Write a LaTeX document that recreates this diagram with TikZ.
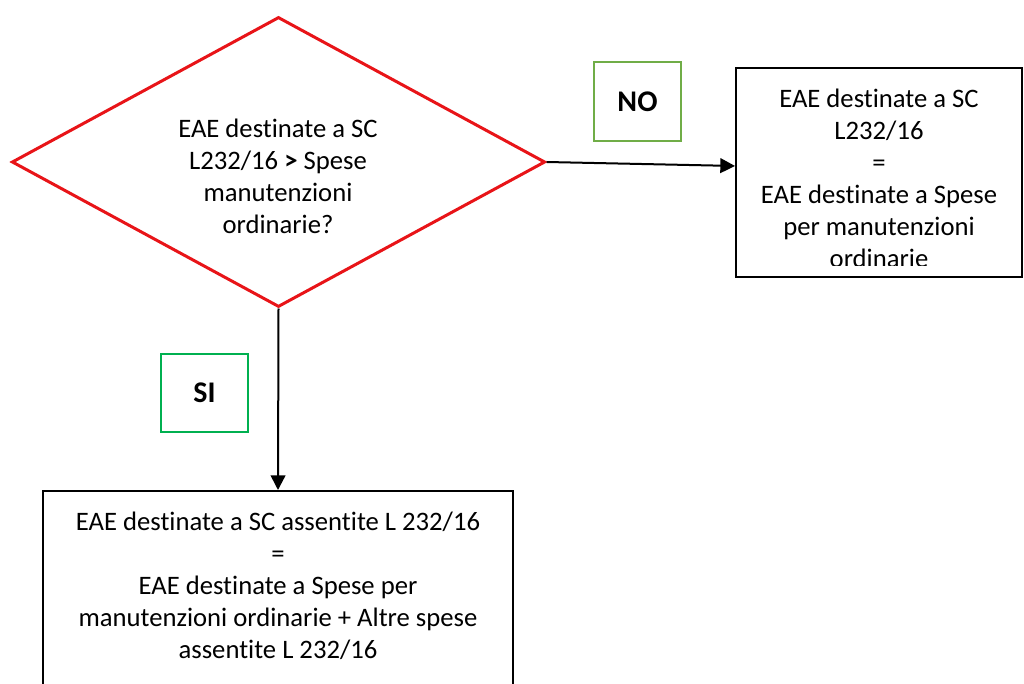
\documentclass[tikz,border=0pt]{standalone}
\usepackage{fontspec}
\setmainfont[Ligatures=NoCommon]{Carlito}
\usetikzlibrary{shapes.geometric, arrows.meta}

\definecolor{rosso}{RGB}{232,20,24}
\definecolor{verdeno}{RGB}{112,173,71}
\definecolor{verdesi}{RGB}{0,176,80}

\tikzset{
  testo/.style={font=\fontsize{20}{24}\selectfont, align=center, inner sep=0pt},
  scatola/.style={draw, line width=1.5pt, inner sep=0pt},
  etichetta/.style={draw, line width=1.5pt, minimum width=65pt, minimum height=59pt, font=\fontsize{22.5}{24}\selectfont\bfseries},
  freccia/.style={line width=1.5pt, -{Triangle[length=11pt, width=11pt]}},
}

\begin{document}
\begin{tikzpicture}[x=0.75pt, y=-0.75pt]
	\useasboundingbox (0,0) rectangle (1024,684);
	\clip (0,0) rectangle (1024,684);
	\node[draw=rosso, line width=2.25pt, diamond, minimum width=400pt, minimum height=217.5pt, inner sep=0pt] (rombo) at (278.5,162) {};
	\node[testo] (domanda) at (278,176) {EAE destinate a SC\\L232/16 \textbf{>} Spese\\manutenzioni\\ordinarie?};

	\node[scatola, minimum width=214.5pt, minimum height=156.75pt] (destra) at (879,172.5) {};
	\begin{scope}
		\clip (737,69) rectangle (1021,266);
		\node[testo] (esitono) at (879,178) {EAE destinate a SC\\L232/16\\=\\EAE destinate a Spese\\per manutenzioni\\ordinarie};
	\end{scope}

	\node[scatola, minimum width=352.5pt, minimum height=171.75pt] (sotto) at (278,605.5) {};
	\node[testo] (esitosi) at (278,586) {EAE destinate a SC assentite L 232/16\\=\\EAE destinate a Spese per\\manutenzioni ordinarie + Altre spese\\assentite L 232/16};

	\node[etichetta, draw=verdeno] (no) at (637.5,101.5) {NO};
	\node[etichetta, draw=verdesi] (si) at (204.5,393) {SI};

	\draw[freccia] (rombo.east) -- ([yshift=4.9pt]destra.west);
	\draw[freccia] (rombo.south) -- (sotto.north);
\end{tikzpicture}
\end{document}
